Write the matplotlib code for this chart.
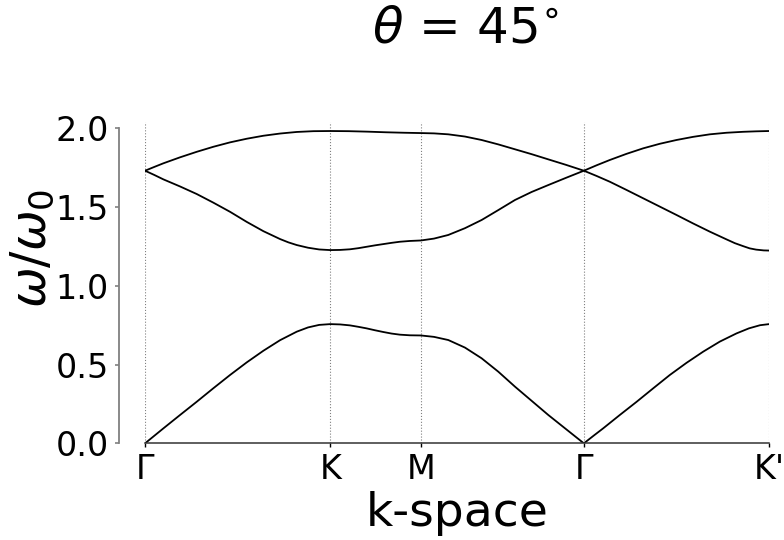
import numpy as np
import matplotlib
matplotlib.use("Agg")
import matplotlib.pyplot as plt

# high-symmetry points along the path (in units of |Gamma-K|)
sym_k = [0.0, 1.0, 1.489, 2.369, 3.369]
sym_labels = ["Γ", "K", "M", "Γ", "K'"]

# top band
k_top = [0.0, 0.05, 0.099, 0.189, 0.279, 0.369, 0.459, 0.549, 0.639, 0.729, 0.819, 0.909, 1.0,
         1.1, 1.2, 1.3, 1.4, 1.489,
         1.56, 1.637, 1.727, 1.817, 1.907, 1.997, 2.087, 2.177, 2.273, 2.369,
         2.439, 2.509, 2.599, 2.689, 2.779, 2.869, 2.959, 3.049, 3.139, 3.229, 3.299, 3.369]
w_top = [1.731, 1.755, 1.778, 1.816, 1.851, 1.883, 1.911, 1.934, 1.953, 1.967, 1.977, 1.982, 1.983,
         1.982, 1.979, 1.975, 1.972, 1.970,
         1.968, 1.962, 1.948, 1.926, 1.898, 1.867, 1.836, 1.803, 1.768, 1.731,
         1.766, 1.799, 1.838, 1.873, 1.902, 1.926, 1.946, 1.962, 1.972, 1.978, 1.981, 1.983]

# middle band
k_mid = [0.0, 0.05, 0.099, 0.189, 0.279, 0.369, 0.459, 0.549, 0.639, 0.729, 0.774, 0.819, 0.88, 0.94, 1.0,
         1.053, 1.106, 1.151, 1.196, 1.241, 1.286, 1.331, 1.376, 1.43, 1.489,
         1.56, 1.637, 1.727, 1.817, 1.907, 1.997, 2.087, 2.177, 2.273, 2.369,
         2.439, 2.509, 2.599, 2.689, 2.779, 2.869, 2.959, 3.049, 3.139, 3.184, 3.229, 3.264, 3.299, 3.34, 3.369]
w_mid = [1.731, 1.704, 1.676, 1.631, 1.583, 1.528, 1.470, 1.406, 1.347, 1.297, 1.276, 1.259, 1.242, 1.231, 1.227,
         1.228, 1.232, 1.239, 1.248, 1.257, 1.265, 1.273, 1.280, 1.285, 1.288,
         1.300, 1.323, 1.366, 1.418, 1.481, 1.545, 1.596, 1.640, 1.686, 1.731,
         1.697, 1.661, 1.609, 1.556, 1.503, 1.450, 1.396, 1.344, 1.295, 1.271, 1.252, 1.238, 1.230, 1.225, 1.224]

# acoustic band
k_low = [0.0, 0.05, 0.099, 0.189, 0.279, 0.369, 0.459, 0.549, 0.639, 0.729, 0.819, 0.88, 0.94, 1.0,
         1.053, 1.106, 1.151, 1.196, 1.241, 1.286, 1.331, 1.376, 1.43, 1.489,
         1.56, 1.637, 1.727, 1.817, 1.907, 1.997, 2.087, 2.177, 2.273, 2.369,
         2.421, 2.473, 2.563, 2.654, 2.744, 2.833, 2.923, 3.013, 3.103, 3.193, 3.26, 3.32, 3.369]
w_low = [0.0, 0.048, 0.095, 0.180, 0.264, 0.350, 0.434, 0.514, 0.588, 0.655, 0.709, 0.736, 0.752, 0.757,
         0.755, 0.749, 0.740, 0.730, 0.718, 0.707, 0.697, 0.690, 0.686, 0.685,
         0.676, 0.656, 0.608, 0.540, 0.455, 0.360, 0.270, 0.180, 0.090, 0.0,
         0.048, 0.095, 0.180, 0.264, 0.350, 0.434, 0.511, 0.582, 0.646, 0.698, 0.730, 0.750, 0.757]

fig = plt.figure(figsize=(7.84, 5.4), dpi=100)
ax = fig.add_axes([0.185, 0.179, 0.796, 0.595])

for k in sym_k:
    ax.axvline(k, color="gray", ls=":", lw=0.8, zorder=0)

for k, w in [(k_top, w_top), (k_mid, w_mid), (k_low, w_low)]:
    ax.plot(k, w, color="black", lw=1.3)

ax.set_xlim(sym_k[0], sym_k[-1])
ax.set_ylim(0, 2.04)
ax.set_xticks(sym_k)
ax.set_xticklabels(sym_labels)
ax.set_yticks([0.0, 0.5, 1.0, 1.5, 2.0])
ax.set_yticklabels(["0.0", "0.5", "1.0", "1.5", "2.0"])

ax.spines["top"].set_visible(False)
ax.spines["right"].set_visible(False)
ax.spines["left"].set_position(("outward", 19))
ax.spines["left"].set_bounds(0, 2)
ax.spines["left"].set_color("gray")
ax.spines["left"].set_linewidth(1.3)
ax.spines["bottom"].set_color("#333333")
ax.spines["bottom"].set_linewidth(1.1)

ax.tick_params(axis="y", labelsize=24, length=3, width=1.2, color="gray", pad=4)
ax.tick_params(axis="x", labelsize=24, length=3, width=1.0, pad=4)

fig.text(0.583, 0.025, "k-space", fontsize=34, ha="center", va="baseline")
fig.text(0.041, 0.54, r"$\omega/\omega_0$", fontsize=35, rotation=90, ha="center", va="center")
fig.text(0.593, 0.922, r"$\theta$ = $45^{\circ}$", fontsize=36, ha="center", va="baseline")

fig.savefig("out.png", dpi=100)
